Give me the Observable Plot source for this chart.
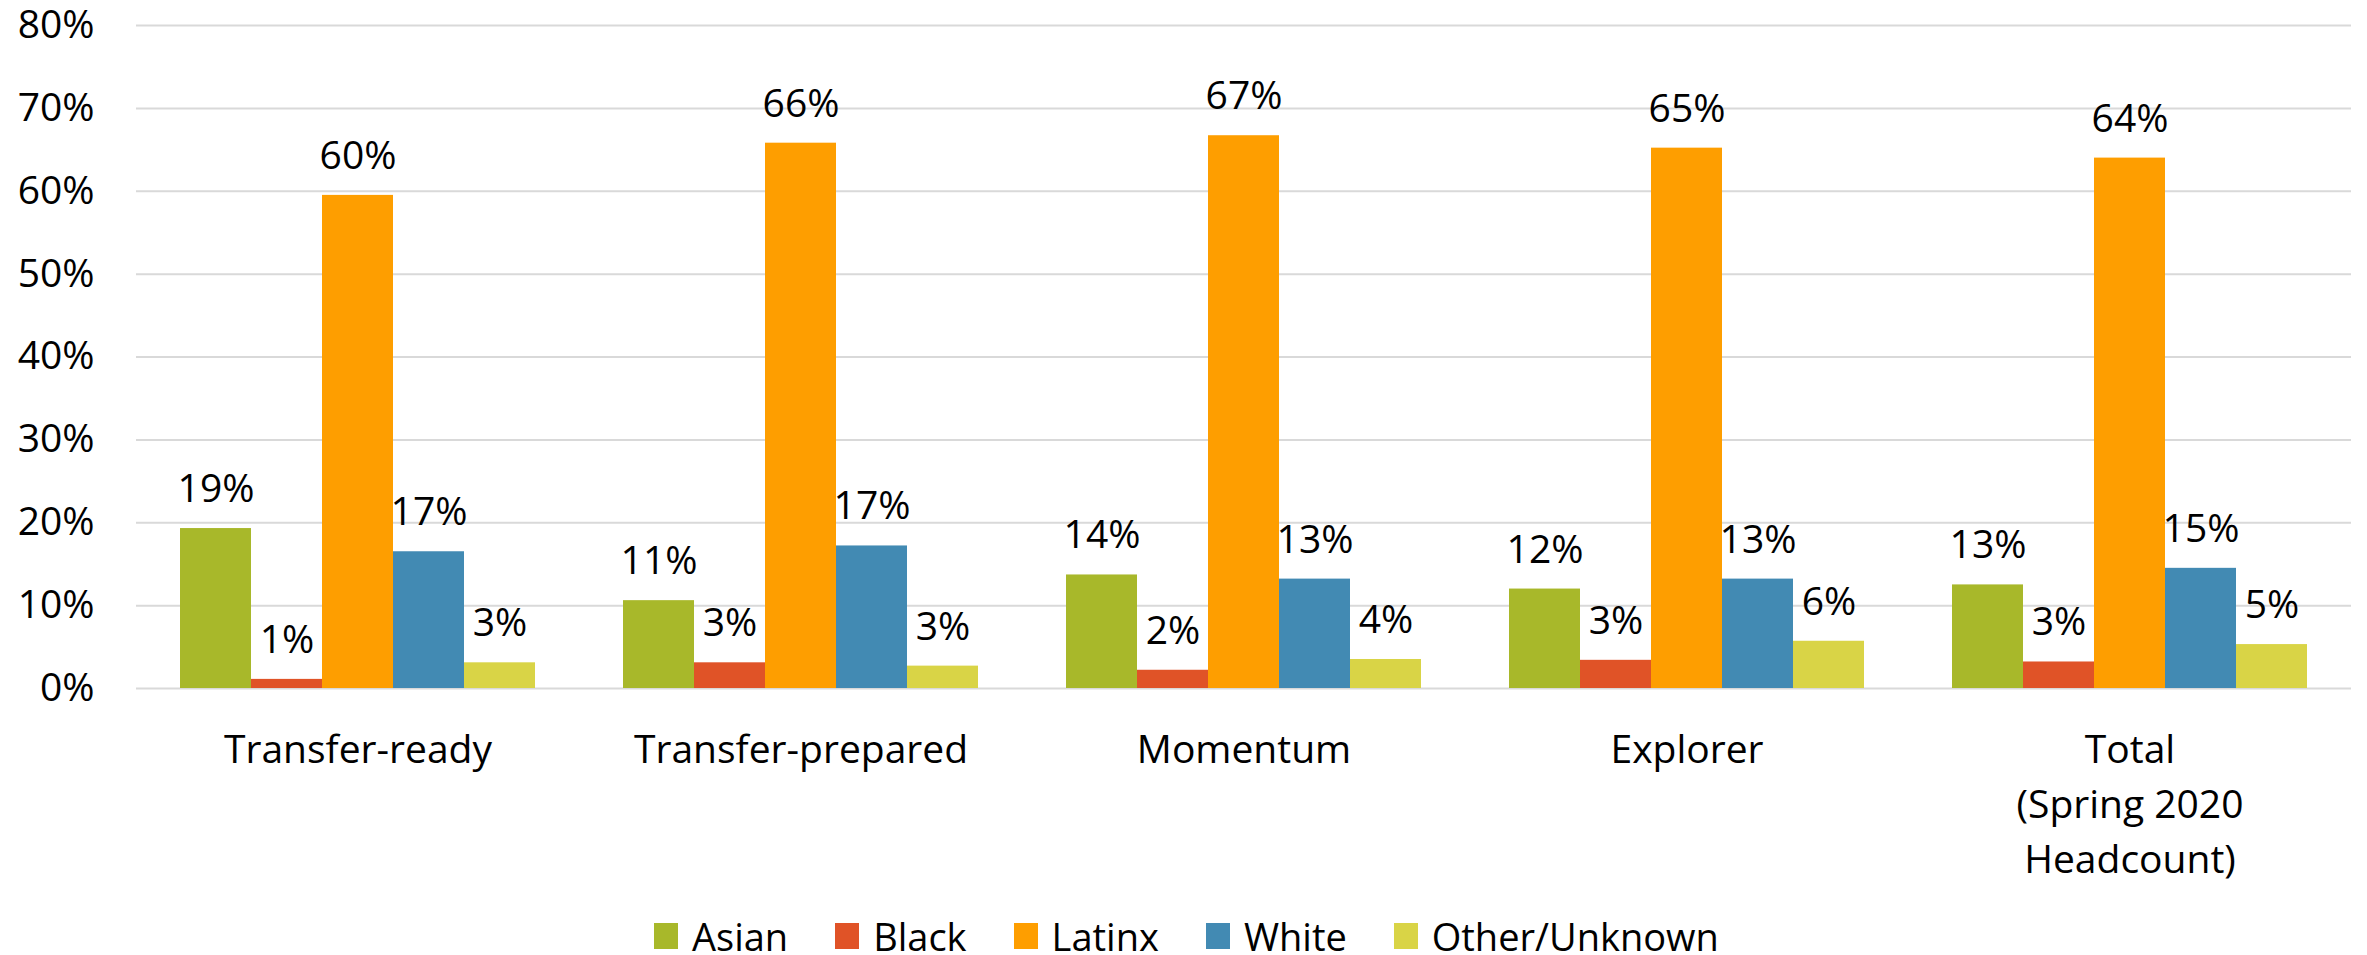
<!DOCTYPE html>
<html>
<head>
<meta charset="utf-8">
<script src="https://cdn.jsdelivr.net/npm/d3@7"></script>
<script src="https://cdn.jsdelivr.net/npm/@observablehq/plot@0.6"></script>
<style>
  html, body { margin: 0; padding: 0; background: #fff; }
  #wrap { position: relative; width: 2367px; height: 955px; font-family: "Open Sans", sans-serif; color: #000; }
  #chart svg { display: block; }
  #legend { position: absolute; left: 654px; top: 923px; display: flex; align-items: center;
            white-space: nowrap; font-size: 38px; line-height: 26px; height: 26px; }
  .item { display: flex; align-items: center; margin-right: 47px; height: 26px; }
  .sw { width: 24px; height: 26px; margin-right: 14px; }
  .lbl { display: inline-block; height: 26px; line-height: 26px; }
</style>
</head>
<body>
<div id="wrap">
  <div id="chart"></div>
  <div id="legend"></div>
</div>
<script>
// ---- data ----
const groups = ["Transfer-ready", "Transfer-prepared", "Momentum", "Explorer", "Total (Spring 2020 Headcount)"];
const groupLabels = ["Transfer-ready", "Transfer-prepared", "Momentum", "Explorer", "Total\n(Spring 2020\nHeadcount)"];
const races = ["Asian", "Black", "Latinx", "White", "Other/Unknown"];
const colors = ["#A8B82A", "#E05327", "#FE9E00", "#428AB3", "#D9D446"];

const asian  = [19.3, 10.6, 13.7, 12.0, 12.5];
const black  = [1.1, 3.1, 2.2, 3.4, 3.2];
const latinx = [59.5, 65.8, 66.7, 65.2, 64.0];
const white  = [16.5, 17.2, 13.2, 13.2, 14.5];
const other  = [3.1, 2.7, 3.5, 5.7, 5.3];

const yTicks = [0, 10, 20, 30, 40, 50, 60, 70, 80];

// ---- table ----
const series = [asian, black, latinx, white, other];
const data = groups.flatMap((g, i) => races.map((r, j) => ({group: g, race: r, value: series[j][i]})));

const chart = Plot.plot({
  width: 2367,
  height: 900,
  marginTop: 25,
  marginBottom: 212,
  marginLeft: 134,
  marginRight: 14,
  style: {fontFamily: "'Open Sans', sans-serif", fontSize: "39px", color: "#000", background: "#fff"},
  fx: {domain: groups, padding: 0, label: null, axis: null},
  x: {domain: races, paddingInner: 0, paddingOuter: 0.58, axis: null},
  y: {domain: [0, 80], label: null},
  color: {domain: races, range: colors},
  marks: [
    Plot.gridY(yTicks, {stroke: "#d9d9d9", strokeOpacity: 1, strokeWidth: 2}),
    Plot.barY(data, {fx: "group", x: "race", y: "value", fill: "race"}),
    Plot.text(data, {fx: "group", x: "race", y: "value", text: d => Math.round(d.value) + "%", dy: -39, fill: "#000", fontSize: 39}),
    Plot.axisY(yTicks, {tickSize: 0, tickPadding: 42, tickFormat: d => d + "%", fontSize: 39, label: null, fill: "#000"}),
    Plot.axisFx({anchor: "bottom", tickSize: 0, tickPadding: 35, tickFormat: g => groupLabels[groups.indexOf(g)], lineHeight: 1.41, fontSize: 39, label: null, fill: "#000"})
  ]
});
document.getElementById("chart").appendChild(chart);

// ---- legend ----
const legend = d3.select("#legend");
races.forEach((r, i) => {
  const it = legend.append("div").attr("class", "item");
  it.append("div").attr("class", "sw").style("background", colors[i]);
  it.append("span").attr("class", "lbl").text(r);
});
</script>
</body>
</html>
